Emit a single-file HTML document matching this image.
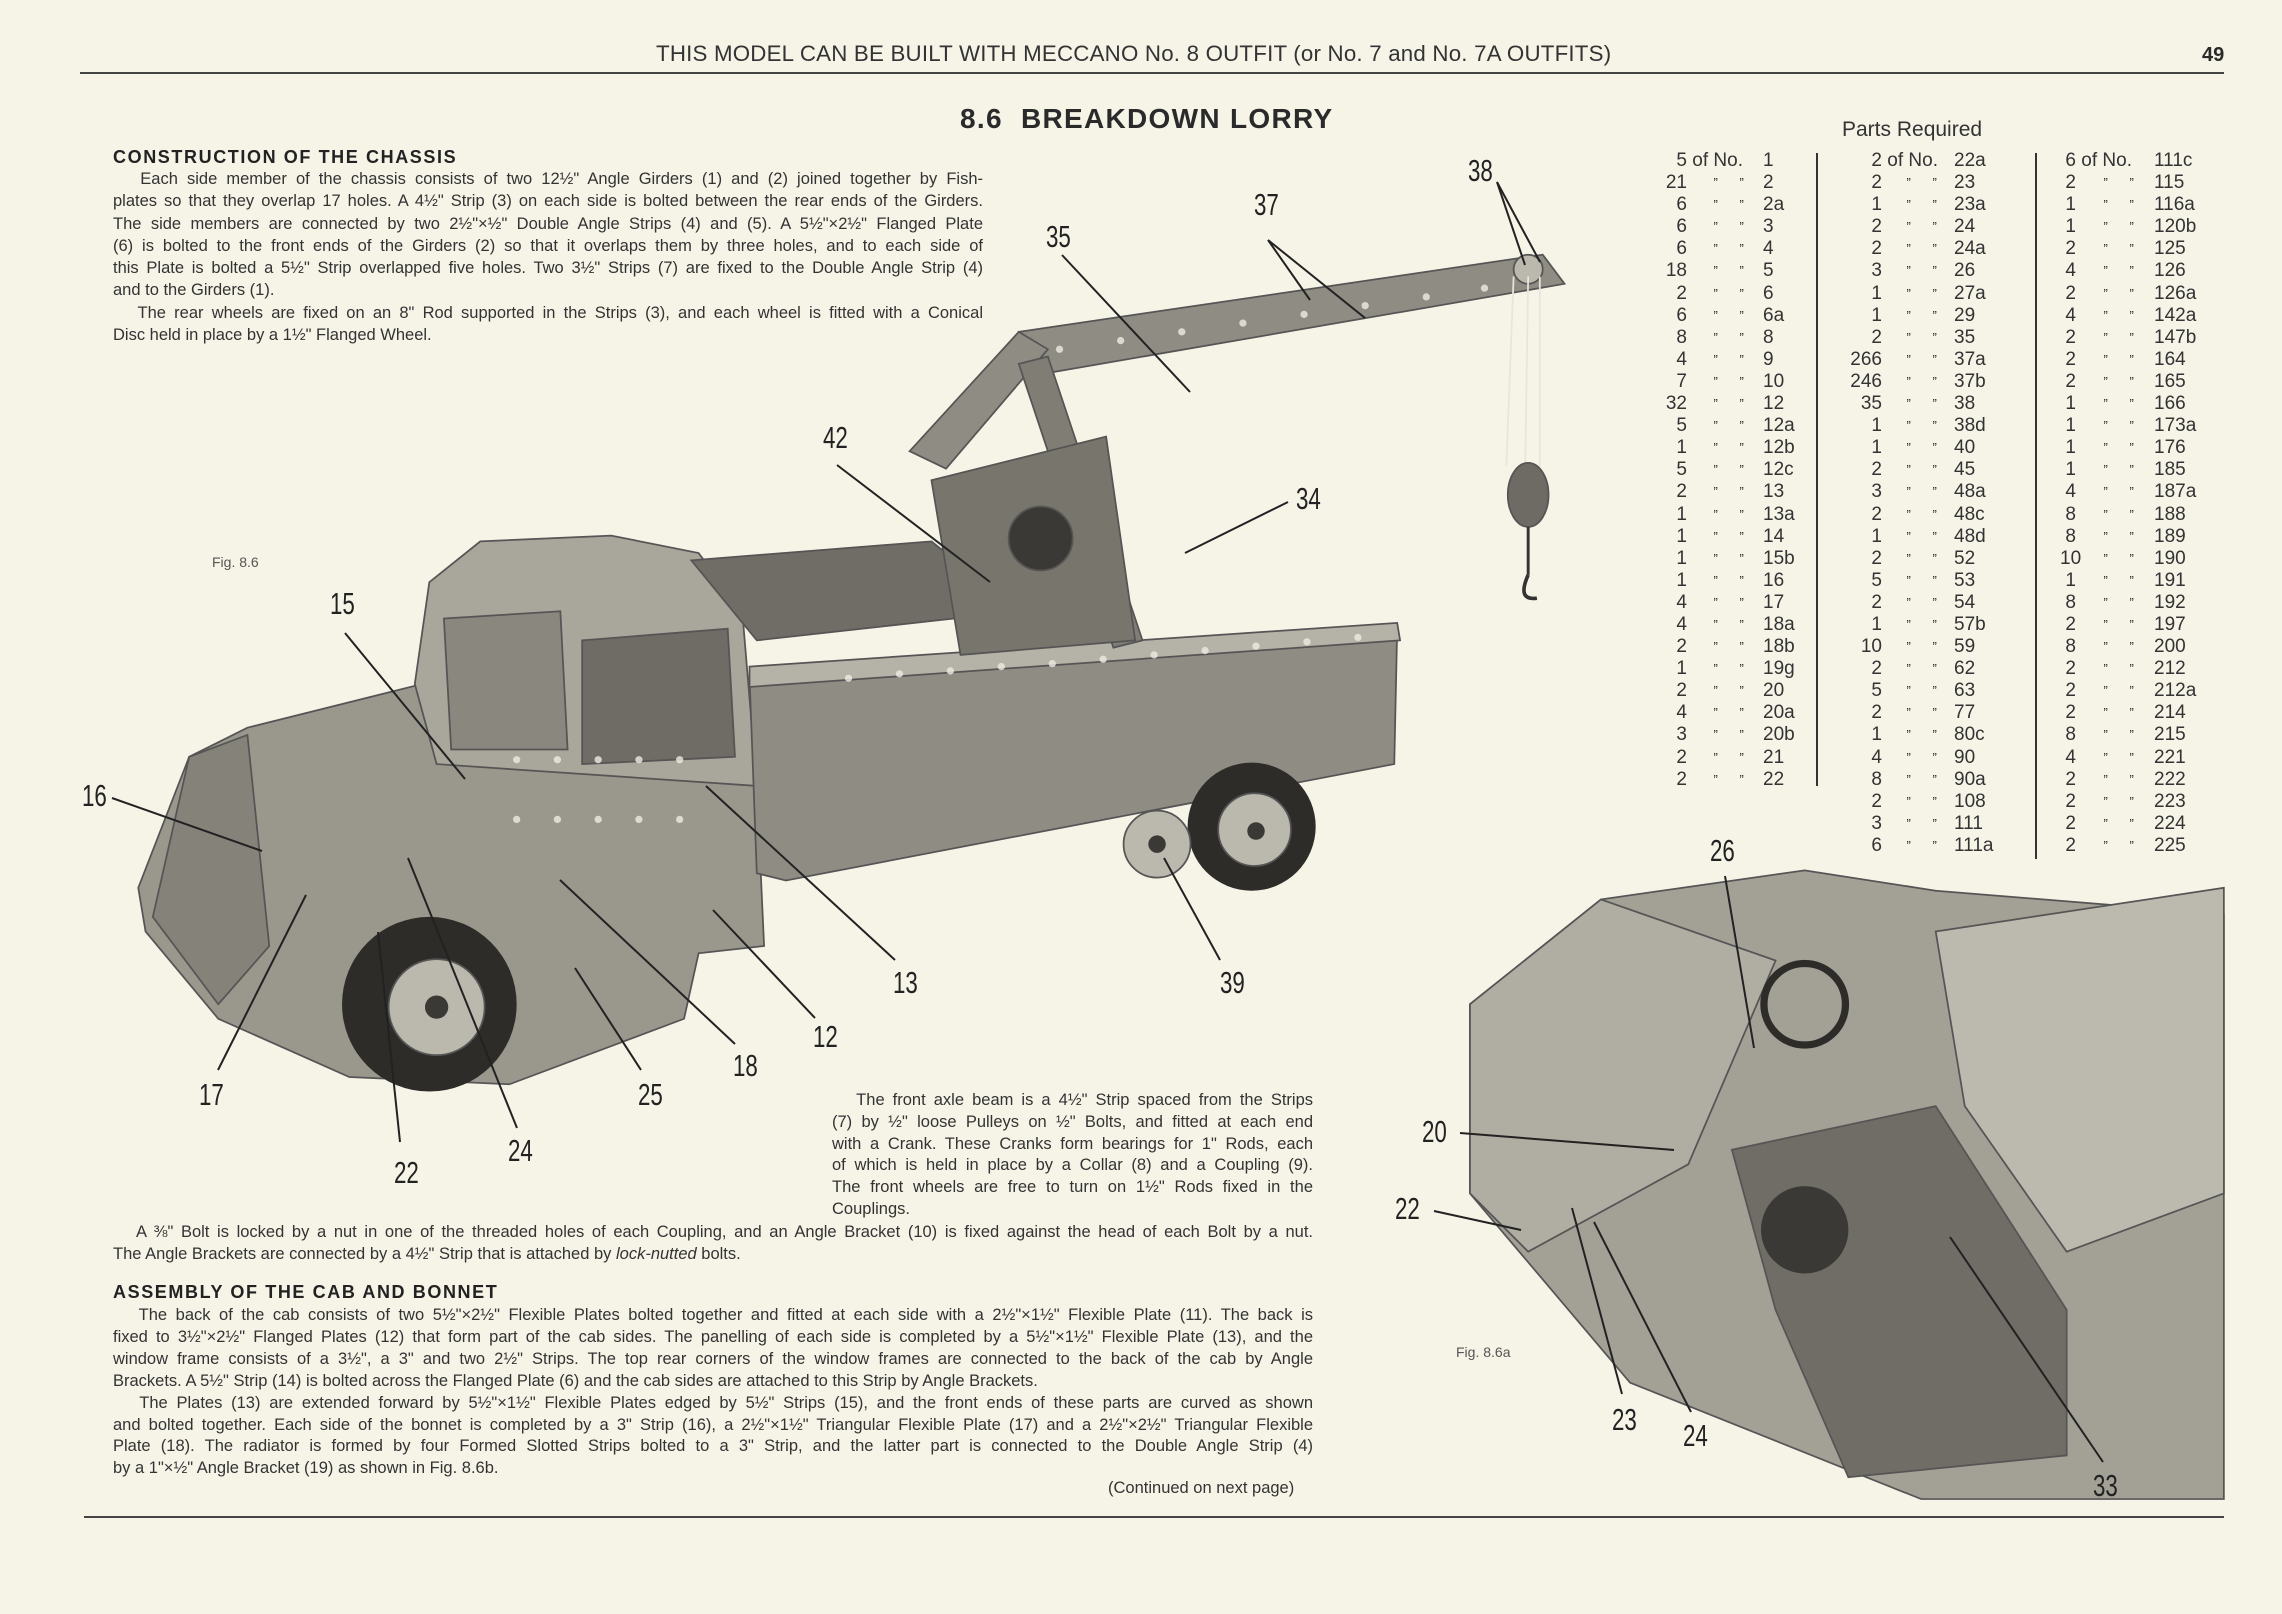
<!DOCTYPE html>
<html><head><meta charset="utf-8"><style>
html,body{margin:0;padding:0}
body{width:2282px;height:1614px;background:#f6f3e7;position:relative;overflow:hidden;font-family:"Liberation Sans",sans-serif;color:#2a2a28}
.a{position:absolute;white-space:nowrap}
.p{position:absolute;font-size:16.5px;line-height:22.3px;text-align:justify;color:#333}
.p div{text-align-last:justify}
.p div.l{text-align-last:left}
.h{position:absolute;font-weight:bold;font-size:18px;letter-spacing:1.6px;color:#222}
.n{position:absolute;font-size:31px;transform:scaleX(0.72);transform-origin:left top;color:#222}
.pt{position:absolute;font-size:19px;color:#333}
.pt div{height:22.1px;line-height:22.1px;white-space:nowrap}
.pt span{display:inline-block;vertical-align:top}
</style></head><body>
<div class="a" style="left:656px;top:41px;font-size:22.3px;letter-spacing:0.2px;color:#333">THIS MODEL CAN BE BUILT WITH MECCANO No. 8 OUTFIT (or No. 7 and No. 7A OUTFITS)</div>
<div class="a" style="left:2202px;top:44px;font-size:20px;font-weight:bold">49</div>
<div class="a" style="left:80px;top:72px;width:2144px;height:2px;background:#444"></div>
<div class="a" style="left:960px;top:103px;font-size:28px;font-weight:bold;letter-spacing:1.3px;color:#2a2a2a">8.6 &nbsp;BREAKDOWN LORRY</div>

<div class="h" style="left:113px;top:147px">CONSTRUCTION OF THE CHASSIS</div>
<div class="p" style="left:113px;top:168px;width:870px">
<div>&nbsp;&nbsp;&nbsp;Each side member of the chassis consists of two 12½" Angle Girders (1) and (2) joined together by Fish-</div>
<div>plates so that they overlap 17 holes. A 4½" Strip (3) on each side is bolted between the rear ends of the Girders.</div>
<div>The side members are connected by two 2½"×½" Double Angle Strips (4) and (5). A 5½"×2½" Flanged Plate</div>
<div>(6) is bolted to the front ends of the Girders (2) so that it overlaps them by three holes, and to each side of</div>
<div>this Plate is bolted a 5½" Strip overlapped five holes. Two 3½" Strips (7) are fixed to the Double Angle Strip (4)</div>
<div class="l">and to the Girders (1).</div>
<div>&nbsp;&nbsp;&nbsp;The rear wheels are fixed on an 8" Rod supported in the Strips (3), and each wheel is fitted with a Conical</div>
<div class="l">Disc held in place by a 1½" Flanged Wheel.</div>
</div>

<svg class="a" style="left:0;top:0" width="2282" height="1614">
<g transform="scale(1.4554)" stroke="#555" stroke-width="1.2">
<polygon points="95,610 130,520 170,500 290,470 300,520 520,540 525,650 480,655 470,700 350,745 240,740 150,700 100,640" fill="#9a978d"/>
<polygon points="130,520 170,505 185,650 150,690 105,630" fill="#85827a"/>
<polygon points="285,470 295,400 330,372 420,368 480,380 510,420 520,540 300,525" fill="#a9a69b"/>
<polygon points="400,440 500,432 505,520 400,525" fill="#6e6c64"/>
<polygon points="305,425 385,420 390,515 310,515" fill="#8a877e"/>
<polygon points="475,385 640,372 700,420 520,440" fill="#6f6d65"/>
<polygon points="515,465 960,432 958,525 540,605 520,600" fill="#8f8c83"/>
<polygon points="515,458 960,428 962,440 515,472" fill="#b5b2a7"/>
<polygon points="700,228 1060,175 1075,195 710,258" fill="#8e8c83"/>
<polygon points="625,310 700,228 720,240 650,322" fill="#8e8c83"/>
<polygon points="700,250 720,245 785,440 765,445" fill="#7f7d74"/>
<polygon points="640,330 760,300 780,440 660,450" fill="#77756c"/>
<circle cx="715" cy="370" r="22" fill="#3a3935"/>
<g fill="#2d2c29" stroke="none"><circle cx="295" cy="690" r="60"/><circle cx="860" cy="568" r="44"/></g>
<g fill="#bbb8ad"><circle cx="300" cy="692" r="33"/><circle cx="862" cy="570" r="25"/><circle cx="795" cy="580" r="23"/><circle cx="1050" cy="185" r="10"/></g>
<g fill="#3a3935" stroke="none"><circle cx="300" cy="692" r="8"/><circle cx="863" cy="571" r="6"/><circle cx="795" cy="580" r="6"/></g>
<g stroke="#e8e6dc" stroke-width="1.2"><line x1="1040" y1="190" x2="1035" y2="320"/><line x1="1050" y1="190" x2="1048" y2="320"/><line x1="1058" y1="190" x2="1058" y2="320"/></g>
<ellipse cx="1050" cy="340" rx="14" ry="22" fill="#6d6b63"/>
<path d="M1050,395 q-8,18 6,16" stroke="#333" stroke-width="2.5" fill="none"/>
<line x1="1050" y1="362" x2="1050" y2="395" stroke="#333" stroke-width="2"/>
<g fill="#eeece2" stroke="none" opacity="0.8">
<circle cx="355" cy="522" r="2.5"/><circle cx="383" cy="522" r="2.5"/><circle cx="411" cy="522" r="2.5"/><circle cx="439" cy="522" r="2.5"/><circle cx="467" cy="522" r="2.5"/>
<circle cx="355" cy="563" r="2.5"/><circle cx="383" cy="563" r="2.5"/><circle cx="411" cy="563" r="2.5"/><circle cx="439" cy="563" r="2.5"/><circle cx="467" cy="563" r="2.5"/>
<circle cx="583" cy="466" r="2.5"/><circle cx="618" cy="463" r="2.5"/><circle cx="653" cy="461" r="2.5"/><circle cx="688" cy="458" r="2.5"/><circle cx="723" cy="456" r="2.5"/><circle cx="758" cy="453" r="2.5"/><circle cx="793" cy="450" r="2.5"/><circle cx="828" cy="447" r="2.5"/><circle cx="863" cy="444" r="2.5"/><circle cx="898" cy="441" r="2.5"/><circle cx="933" cy="438" r="2.5"/>
<circle cx="728" cy="240" r="2.5"/><circle cx="770" cy="234" r="2.5"/><circle cx="812" cy="228" r="2.5"/><circle cx="854" cy="222" r="2.5"/><circle cx="896" cy="216" r="2.5"/><circle cx="938" cy="210" r="2.5"/><circle cx="980" cy="204" r="2.5"/><circle cx="1020" cy="198" r="2.5"/>
</g>
<polygon points="1010,690 1100,618 1240,598 1330,612 1528,628 1528,1030 1320,1030 1120,950 1010,820" fill="#a3a096"/>
<polygon points="1010,690 1100,618 1220,660 1160,800 1050,860 1010,820" fill="#b0ada2"/>
<polygon points="1330,640 1528,610 1528,820 1420,860 1350,760" fill="#bcb9ae"/>
<polygon points="1190,790 1330,760 1420,900 1420,1000 1270,1015 1220,900" fill="#6f6d65"/>
<circle cx="1240" cy="690" r="28" fill="none" stroke="#2d2c29" stroke-width="5"/>
<circle cx="1240" cy="845" r="30" fill="#3a3935" stroke="none"/>
</g>
<g stroke="#222" stroke-width="2" fill="none">
<line x1="1497" y1="182" x2="1540" y2="262"/><line x1="1497" y1="182" x2="1525" y2="265"/>
<line x1="1268" y1="240" x2="1310" y2="300"/><line x1="1268" y1="240" x2="1365" y2="318"/>
<line x1="1062" y1="255" x2="1190" y2="392"/>
<line x1="837" y1="465" x2="990" y2="582"/>
<line x1="1288" y1="502" x2="1185" y2="553"/>
<line x1="345" y1="633" x2="465" y2="779"/>
<line x1="112" y1="798" x2="262" y2="851"/>
<line x1="895" y1="960" x2="706" y2="786"/>
<line x1="1220" y1="960" x2="1164" y2="858"/>
<line x1="815" y1="1018" x2="713" y2="910"/>
<line x1="735" y1="1044" x2="560" y2="880"/>
<line x1="218" y1="1070" x2="306" y2="895"/>
<line x1="641" y1="1070" x2="575" y2="968"/>
<line x1="400" y1="1142" x2="378" y2="932"/>
<line x1="517" y1="1128" x2="408" y2="858"/>
<line x1="1725" y1="876" x2="1754" y2="1048"/>
<line x1="1460" y1="1133" x2="1674" y2="1150"/>
<line x1="1434" y1="1211" x2="1521" y2="1230"/>
<line x1="1622" y1="1394" x2="1572" y2="1208"/>
<line x1="1691" y1="1412" x2="1594" y2="1222"/>
<line x1="2103" y1="1462" x2="1950" y2="1237"/>
</g>
</svg>

<div class="a" style="left:1842px;top:118px;font-size:21px;color:#333">Parts Required</div>
<div class="a" style="left:1816px;top:153px;width:2px;height:633px;background:#333"></div>
<div class="a" style="left:2035px;top:153px;width:2px;height:706px;background:#333"></div>
<div class="pt" id="c1" style="left:1659px;top:150px"></div>
<div class="pt" id="c2" style="left:1848px;top:150px"></div>
<div class="pt" id="c3" style="left:2060px;top:150px"></div>

<div class="n" style="left:1468px;top:153px">38</div>
<div class="n" style="left:1254px;top:187px">37</div>
<div class="n" style="left:1046px;top:219px">35</div>
<div class="n" style="left:823px;top:420px">42</div>
<div class="n" style="left:1296px;top:481px">34</div>
<div class="n" style="left:330px;top:586px">15</div>
<div class="n" style="left:82px;top:778px">16</div>
<div class="n" style="left:893px;top:965px">13</div>
<div class="n" style="left:1220px;top:965px">39</div>
<div class="n" style="left:813px;top:1019px">12</div>
<div class="n" style="left:733px;top:1048px">18</div>
<div class="n" style="left:199px;top:1077px">17</div>
<div class="n" style="left:638px;top:1077px">25</div>
<div class="n" style="left:394px;top:1155px">22</div>
<div class="n" style="left:508px;top:1133px">24</div>
<div class="n" style="left:1710px;top:833px">26</div>
<div class="n" style="left:1422px;top:1114px">20</div>
<div class="n" style="left:1395px;top:1191px">22</div>
<div class="n" style="left:1612px;top:1402px">23</div>
<div class="n" style="left:1683px;top:1418px">24</div>
<div class="n" style="left:2093px;top:1468px">33</div>
<div class="a" style="left:212px;top:554px;font-size:14px;color:#555">Fig. 8.6</div>
<div class="a" style="left:1456px;top:1344px;font-size:14px;color:#555">Fig. 8.6a</div>

<div class="p" style="left:832px;top:1090px;width:481px;line-height:21.8px">
<div>&nbsp;&nbsp;&nbsp;The front axle beam is a 4½" Strip spaced from the Strips</div>
<div>(7) by ½" loose Pulleys on ½" Bolts, and fitted at each end</div>
<div>with a Crank. These Cranks form bearings for 1" Rods, each</div>
<div>of which is held in place by a Collar (8) and a Coupling (9).</div>
<div>The front wheels are free to turn on 1½" Rods fixed in the</div>
<div class="l">Couplings.</div>
</div>
<div class="p" style="left:113px;top:1222px;width:1200px;line-height:21.5px">
<div>&nbsp;&nbsp;&nbsp;A ⅜" Bolt is locked by a nut in one of the threaded holes of each Coupling, and an Angle Bracket (10) is fixed against the head of each Bolt by a nut.</div>
<div class="l">The Angle Brackets are connected by a 4½" Strip that is attached by <i>lock-nutted</i> bolts.</div>
</div>
<div class="h" style="left:113px;top:1282px">ASSEMBLY OF THE CAB AND BONNET</div>
<div class="p" style="left:113px;top:1305px;width:1200px;line-height:21.9px">
<div>&nbsp;&nbsp;&nbsp;The back of the cab consists of two 5½"×2½" Flexible Plates bolted together and fitted at each side with a 2½"×1½" Flexible Plate (11). The back is</div>
<div>fixed to 3½"×2½" Flanged Plates (12) that form part of the cab sides. The panelling of each side is completed by a 5½"×1½" Flexible Plate (13), and the</div>
<div>window frame consists of a 3½", a 3" and two 2½" Strips. The top rear corners of the window frames are connected to the back of the cab by Angle</div>
<div class="l">Brackets. A 5½" Strip (14) is bolted across the Flanged Plate (6) and the cab sides are attached to this Strip by Angle Brackets.</div>
<div>&nbsp;&nbsp;&nbsp;The Plates (13) are extended forward by 5½"×1½" Flexible Plates edged by 5½" Strips (15), and the front ends of these parts are curved as shown</div>
<div>and bolted together. Each side of the bonnet is completed by a 3" Strip (16), a 2½"×1½" Triangular Flexible Plate (17) and a 2½"×2½" Triangular Flexible</div>
<div>Plate (18). The radiator is formed by four Formed Slotted Strips bolted to a 3" Strip, and the latter part is connected to the Double Angle Strip (4)</div>
<div class="l">by a 1"×½" Angle Bracket (19) as shown in Fig. 8.6b.</div>
</div>
<div class="a" style="left:1108px;top:1479px;font-size:16.5px;color:#333">(Continued on next page)</div>
<div class="a" style="left:84px;top:1516px;width:2140px;height:2px;background:#444"></div>

<script>
function col(id,rows,w1,w2){var h='';rows.forEach(function(r,i){var q=i==0?'<span style="width:'+w2+'px;text-align:left">&nbsp;of No.</span>':'<span style="width:'+w2+'px;text-align:center;font-size:13px">&nbsp;&nbsp;”&nbsp;&nbsp;&nbsp;&nbsp;&nbsp;&nbsp;”</span>';h+='<div><span style="width:'+w1+'px;text-align:right">'+r[0]+'</span>'+q+'<span>'+r[1]+'</span></div>';});document.getElementById(id).innerHTML=h;}
var c1="5 1,21 2,6 2a,6 3,6 4,18 5,2 6,6 6a,8 8,4 9,7 10,32 12,5 12a,1 12b,5 12c,2 13,1 13a,1 14,1 15b,1 16,4 17,4 18a,2 18b,1 19g,2 20,4 20a,3 20b,2 21,2 22";
var c2="2 22a,2 23,1 23a,2 24,2 24a,3 26,1 27a,1 29,2 35,266 37a,246 37b,35 38,1 38d,1 40,2 45,3 48a,2 48c,1 48d,2 52,5 53,2 54,1 57b,10 59,2 62,5 63,2 77,1 80c,4 90,8 90a,2 108,3 111,6 111a";
var c3="6 111c,2 115,1 116a,1 120b,2 125,4 126,2 126a,4 142a,2 147b,2 164,2 165,1 166,1 173a,1 176,1 185,4 187a,8 188,8 189,10 190,1 191,8 192,2 197,8 200,2 212,2 212a,2 214,8 215,4 221,2 222,2 223,2 224,2 225";
function pr(s){return s.split(',').map(function(x){return x.split(' ')});}
col('c1',pr(c1),28,76);col('c2',pr(c2),34,72);col('c3',pr(c3),16,78);
</script>
</body></html>
